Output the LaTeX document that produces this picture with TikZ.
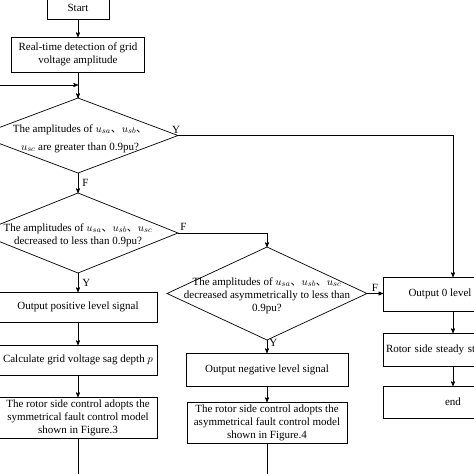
\documentclass[tikz,border=0pt]{standalone}
\usepackage{fontspec}
\setmainfont{Liberation Serif}
\newfontfamily\cjk{Noto Sans CJK SC}
\usetikzlibrary{arrows,positioning,shapes.geometric}
\newcommand{\dun}{{\cjk 、}}

\begin{document}
\begin{tikzpicture}[->,>=stealth',x=1pt,y=-1pt,line width=0.7pt,
                    font=\fontsize{11}{13}\selectfont]
  \tikzstyle{box}=[draw,rectangle,align=center,inner sep=2pt,outer sep=0pt]
  \tikzstyle{dia}=[draw,diamond,inner sep=0pt,outer sep=0pt]
  \tikzstyle{lab}=[inner sep=2pt]

  \useasboundingbox (0,0) rectangle (474,474);
  \clip (0,0) rectangle (474,474);

  % left column
  \node[box,minimum width=62pt,minimum height=22pt] (start) at (78,8) {Start};
  \node[box,minimum width=133pt,minimum height=35pt] (detect) [below=18pt of start]
       {Real-time detection of grid\\voltage amplitude};
  \node[dia,minimum width=200pt,minimum height=75pt] (d1) [below=26pt of detect] {};
  \node[lab,align=center] (d1t) at ([xshift=2pt,yshift=-3pt]d1)
       {The amplitudes of $u_{sa}$\dun$u_{sb}$\dun\\[5pt]$u_{sc}$ are greater than 0.9pu?};
  \node[dia,minimum width=200pt,minimum height=80pt] (d2) [below=20pt of d1] {};
  \node[lab,align=center] (d2t) at ([yshift=-2pt]d2)
       {The amplitudes of $u_{sa}$\dun$u_{sb}$\dun$u_{sc}$\\decreased to less than 0.9pu?};
  \node[box,minimum width=158pt,minimum height=30pt] (pos) [below=19pt of d2]
       {Output positive level signal};
  \node[box,minimum width=158pt,minimum height=30pt] (calc) [below=23pt of pos]
       {Calculate grid voltage sag depth $p$};
  \node[box,minimum width=158pt,minimum height=41pt,inner sep=1pt] (sym) [below=22pt of calc]
       {The rotor side control adopts the\\symmetrical fault control model\\shown in Figure.3};

  % middle column
  \node[dia,minimum width=200pt,minimum height=93pt] (d3) at (267,293.5) {};
  \node[lab,align=center] (d3t) at ([yshift=-2pt]d3)
       {The amplitudes of $u_{sa}$\dun$u_{sb}$\dun$u_{sc}$\\decreased asymmetrically to less than\\0.9pu?};
  \node[box,minimum width=162pt,minimum height=33pt] (neg) [below=13pt of d3]
       {Output negative level signal};
  \node[box,minimum width=160pt,minimum height=41pt,inner sep=1pt] (asym) [below=16pt of neg]
       {The rotor side control adopts the\\asymmetrical fault control model\\shown in Figure.4};

  % right column
  \node[box,minimum width=114pt,minimum height=34pt,anchor=west] (zero) at (383,294)
       {Output 0 level};
  \node[box,text width=134pt,minimum height=33pt,align=left,inner sep=3pt]
       (rotor) [below=22pt of zero.south west,anchor=north west] {Rotor side steady state};
  \node[box,minimum width=140pt,minimum height=32pt]
       (end) [below=20pt of rotor.south west,anchor=north west] {end};

  \coordinate (fb) at (0,85);
  \coordinate (bl) at (0,474);

  \draw (start) -- (detect);
  \draw[-] (detect) -- (d1.north);
  \draw (fb) -- (fb -| d1.north);
  \draw (fb -| d1.north) -- (d1.north);
  \draw (d1.east) node[lab,above,xshift=-2pt] {Y} -- (d1.east -| end) -- (zero.north -| end);
  \draw (d1.south) -- node[lab,right,xshift=2pt] {F} (d2.north);
  \draw (d2.east) node[lab,above right] {F} -- (d2.east -| d3) -- (d3.north);
  \draw (d2.south) -- node[lab,right,xshift=2pt] {Y} (pos);
  \draw (pos) -- (calc);
  \draw (calc) -- (sym);
  \draw (d3.south) -- node[lab,right,pos=0.2] {Y} (neg);
  \draw (neg) -- (asym);
  \draw (d3.east) -- node[lab,above] {F} (d3.east -| zero.west);
  \draw (zero.south -| end) -- (rotor.north -| end);
  \draw (rotor.south -| end) -- (end);
  \draw[-] (sym.south) -- (sym.south |- bl);
  \draw[-] (asym.south) -- (asym.south |- bl);
  \draw[-] (bl) -- (bl -| asym.south);
\end{tikzpicture}
\end{document}
